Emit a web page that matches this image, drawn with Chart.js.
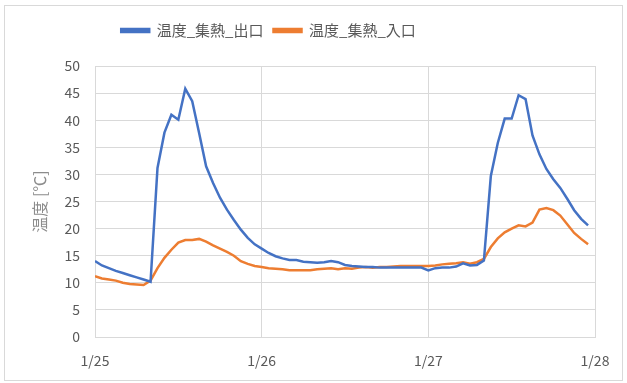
<!DOCTYPE html>
<html>
<head>
<meta charset="utf-8">
<script src="https://cdn.jsdelivr.net/npm/chart.js@4.4.1/dist/chart.umd.min.js"></script>
<style>
  body { margin: 0; background: #fff; }
  #frame { position: absolute; left: 4px; top: 5px; width: 617px; height: 374px; border: 1px solid #d9d9d9; }
  #canvas { position: absolute; left: 0; top: 0; }
</style>
</head>
<body>
<div id="frame"></div>
<canvas id="canvas" width="627" height="383"></canvas>
<script>
// hourly samples, 1/25 0:00 .. 1/27 23:00
var dayLabels = ['1/25', '1/26', '1/27', '1/28'];
var hours = Array.from({length: 72}, function (_, i) { return i; });

var outlet = [
  14.0, 13.2, 12.7, 12.2, 11.8, 11.4, 11.0, 10.6, 10.2, 31.2, 37.7, 41.0,
  40.1, 45.8, 43.5, 37.6, 31.5, 28.4, 25.7, 23.5, 21.6, 19.8, 18.3, 17.1,
  16.3, 15.5, 14.9, 14.5, 14.2, 14.2, 13.9, 13.8, 13.7, 13.8, 14.0, 13.8,
  13.3, 13.1, 13.0, 12.9, 12.9, 12.8, 12.8, 12.8, 12.8, 12.8, 12.8, 12.8,
  12.3, 12.7, 12.8, 12.8, 13.0, 13.6, 13.2, 13.3, 14.1, 29.7, 35.8, 40.3,
  40.3, 44.6, 43.9, 37.2, 33.7, 31.0, 29.1, 27.5, 25.5, 23.4, 21.8, 20.6
];
var inlet = [
  11.2, 10.8, 10.6, 10.4, 10.0, 9.8, 9.7, 9.6, 10.4, 12.7, 14.6, 16.1,
  17.4, 17.9, 17.9, 18.1, 17.6, 16.9, 16.3, 15.7, 15.0, 14.0, 13.5, 13.1,
  12.9, 12.7, 12.6, 12.5, 12.3, 12.3, 12.3, 12.3, 12.5, 12.6, 12.7, 12.5,
  12.7, 12.6, 12.8, 12.9, 12.8, 12.9, 12.9, 13.0, 13.1, 13.1, 13.1, 13.1,
  13.1, 13.2, 13.4, 13.5, 13.6, 13.8, 13.5, 13.8, 14.4, 16.6, 18.2, 19.3,
  20.0, 20.6, 20.4, 21.1, 23.5, 23.8, 23.4, 22.4, 20.8, 19.2, 18.1, 17.1
];
var yTicks = { min: 0, max: 50, step: 5 };

function pts(vals) {
  return vals.map(function (v, i) { return {x: hours[i], y: v}; });
}

var font = '"Noto Sans CJK JP", "Noto Sans", sans-serif';
var grid = '#d9d9d9';

// push the plot down below the legend, and center the legend like Excel does
var legendGap = {
  id: 'legendGap',
  beforeInit: function (chart) {
    var fit = chart.legend.fit;
    chart.legend.fit = function () {
      fit.bind(chart.legend)();
      this.height += 18;
    };
  },
  afterLayout: function (chart) {
    chart.legend.left -= 31;
    chart.legend.right -= 31;
  }
};

new Chart(document.getElementById('canvas'), {
  type: 'line',
  data: {
    datasets: [{
      label: '温度_集熱_出口',
      data: pts(outlet),
      borderColor: '#4472C4',
      backgroundColor: '#4472C4',
      borderWidth: 2.5,
      pointRadius: 0,
      tension: 0
    }, {
      label: '温度_集熱_入口',
      data: pts(inlet),
      borderColor: '#ED7D31',
      backgroundColor: '#ED7D31',
      borderWidth: 2.5,
      pointRadius: 0,
      tension: 0
    }]
  },
  options: {
    responsive: false,
    animation: false,
    layout: { padding: { top: 13, right: 32, bottom: 4, left: 4 } },
    plugins: {
      tooltip: { enabled: false },
      legend: {
        position: 'top',
        labels: {
          color: '#595959',
          font: { family: font, size: 15 },
          boxWidth: 28,
          boxHeight: 3,
          padding: 10
        }
      }
    },
    scales: {
      x: {
        type: 'linear',
        min: 0,
        max: 72,
        grid: { color: grid, drawTicks: false },
        border: { color: grid },
        ticks: {
          stepSize: 24,
          padding: 15,
          color: '#595959',
          font: { family: font, size: 14 },
          maxRotation: 0,
          callback: function (v) { return dayLabels[v / 24]; }
        },
        afterFit: function (s) { s.height = 42; }
      },
      y: {
        min: yTicks.min,
        max: yTicks.max,
        grid: { color: grid, drawTicks: false },
        border: { color: grid },
        ticks: {
          stepSize: yTicks.step,
          padding: 15,
          color: '#595959',
          font: { family: font, size: 14 }
        },
        title: {
          display: true,
          text: '温度 [℃]',
          color: '#8c8c8c',
          font: { family: font, size: 16 },
          padding: { top: 26, bottom: 0 }
        },
        afterFit: function (s) { s.width = 91; }
      }
    }
  },
  plugins: [legendGap]
});
</script>
</body>
</html>
